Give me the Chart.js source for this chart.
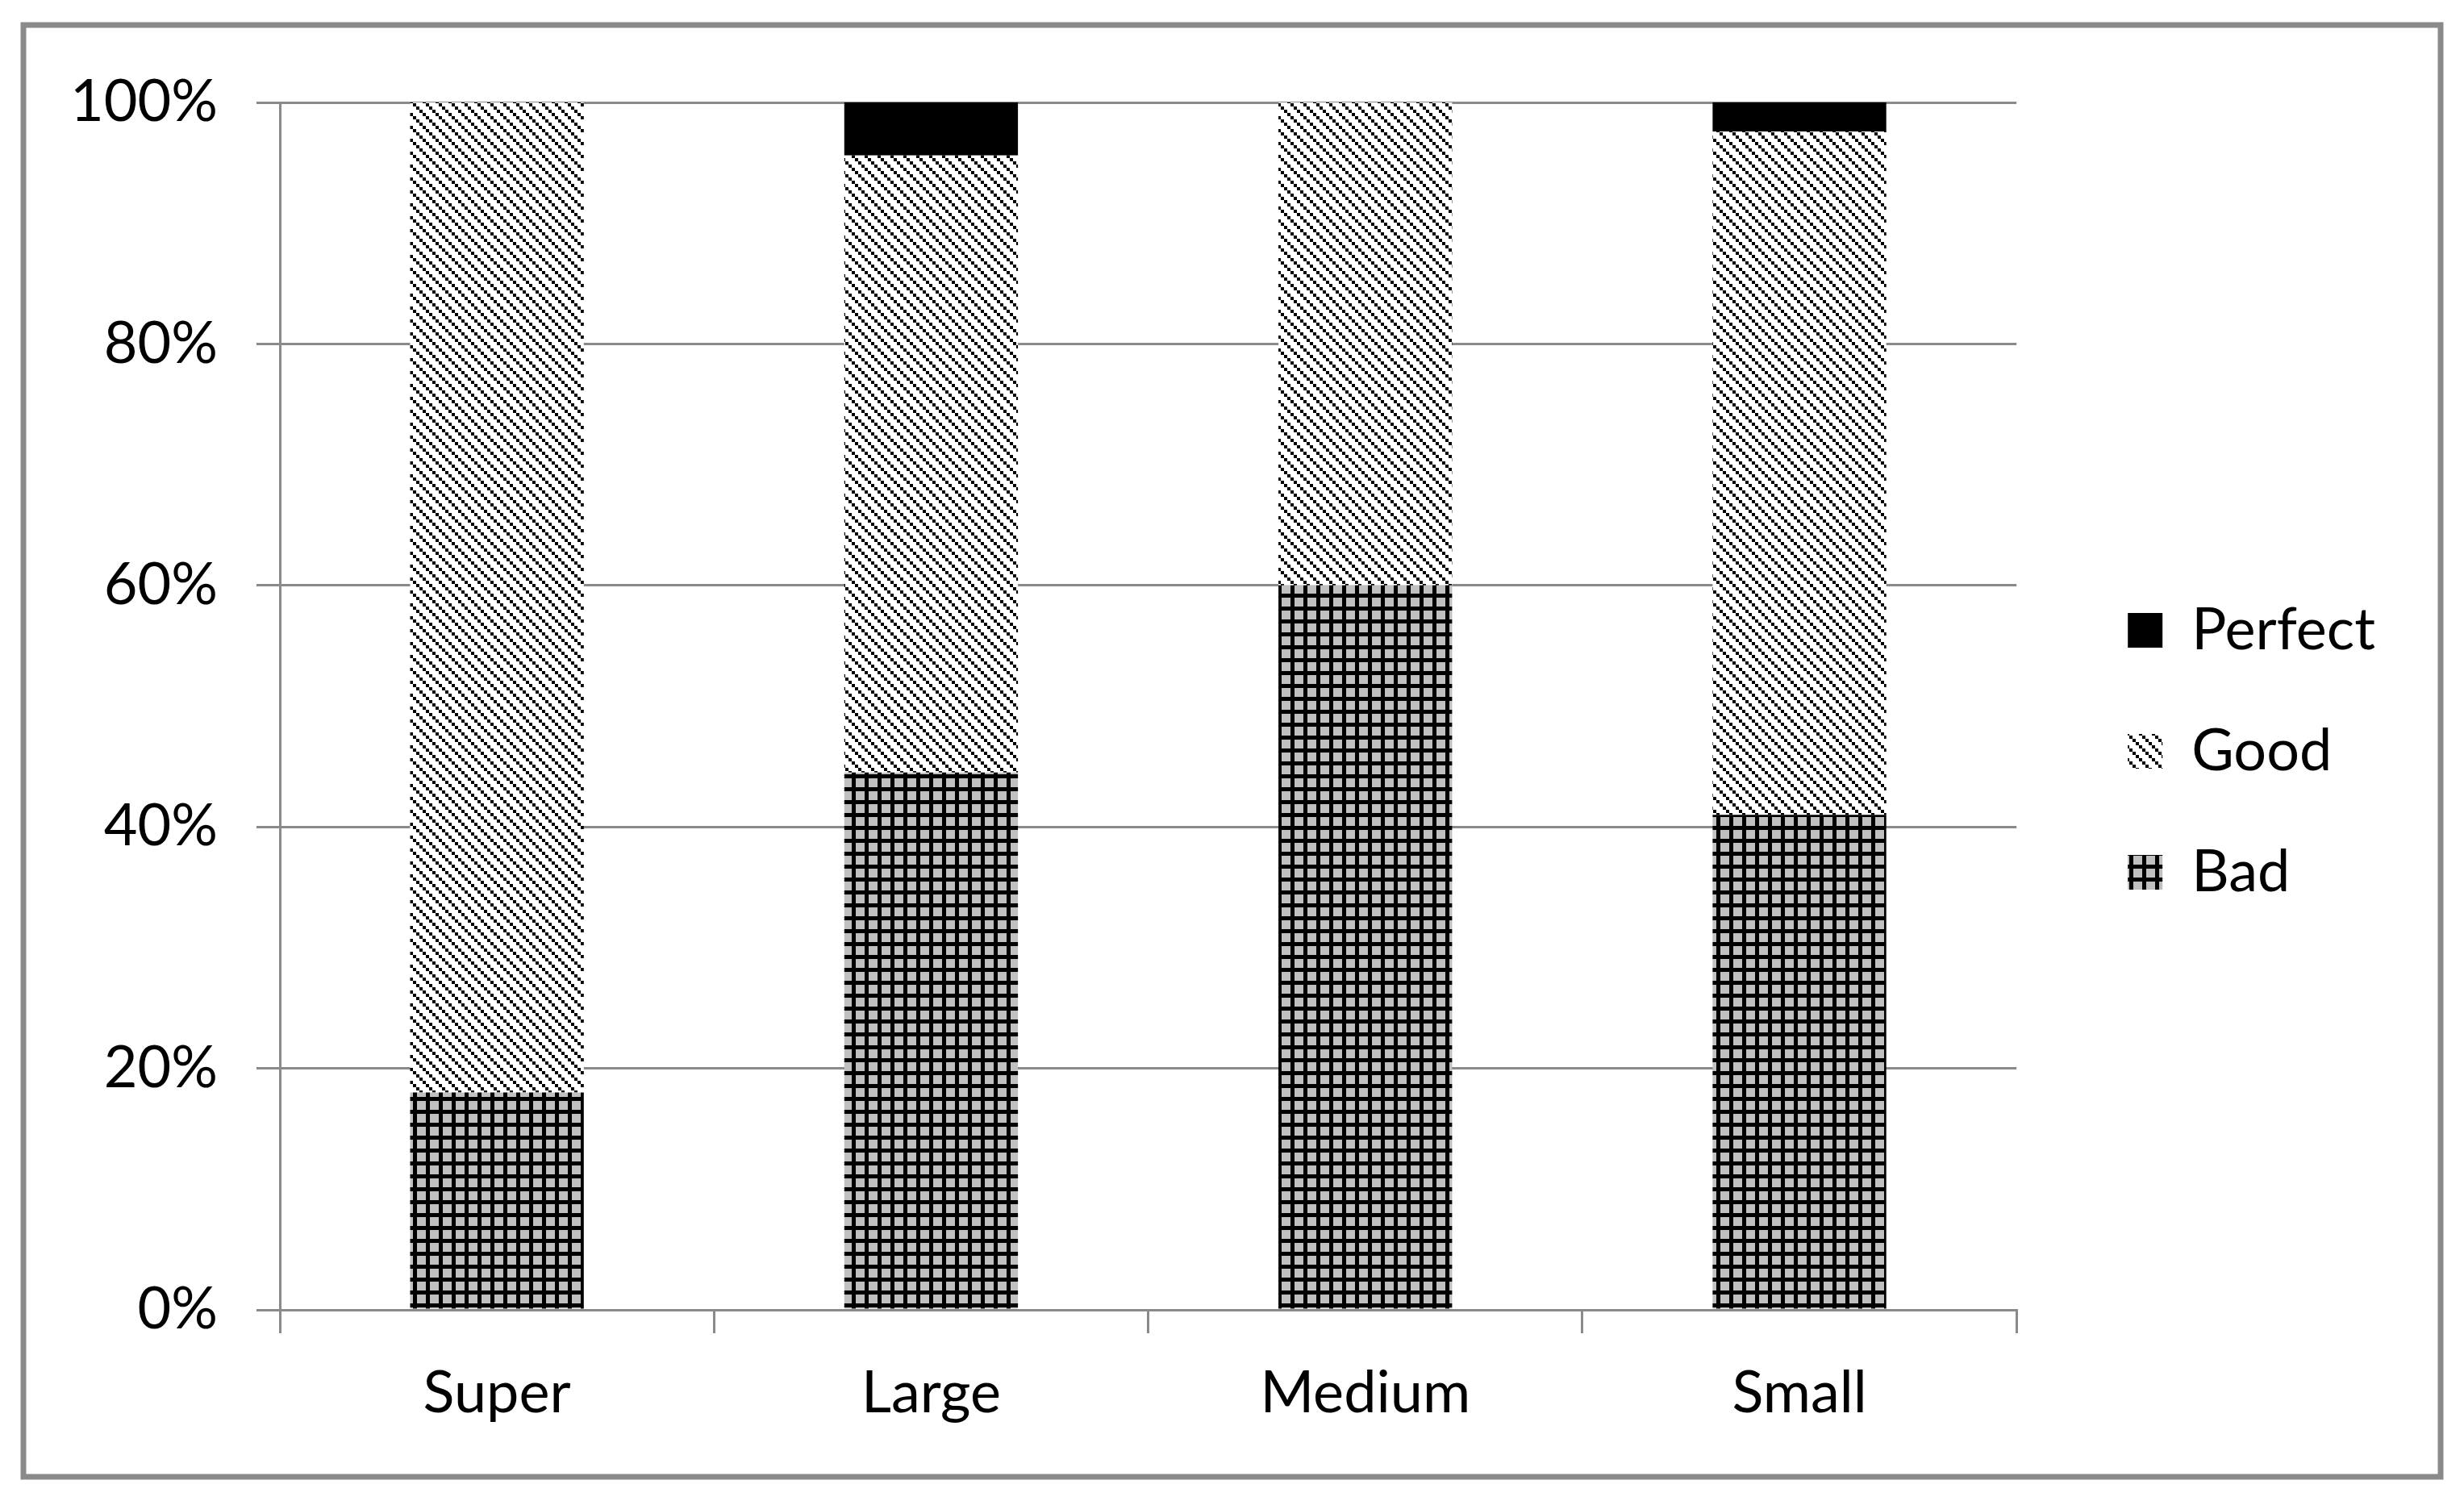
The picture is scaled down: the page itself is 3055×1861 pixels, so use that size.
<!DOCTYPE html>
<html>
<head>
<meta charset="utf-8">
<script src="https://cdn.jsdelivr.net/npm/chart.js@4/dist/chart.umd.min.js"></script>
<style>
    html, body { margin: 0; padding: 0; background: #fff; }
    canvas { display: block; }
</style>
</head>
<body>
<canvas id="grafico" width="3055" height="1861"></canvas>
<script>
// categories and stacked percentages
const categorias = ['Super', 'Large', 'Medium', 'Small'];
const bad = [18, 44.5, 60, 41];
const good = [82, 51.1, 40, 56.6];
const perfect = [0, 4.4, 0, 2.4];
const yTicks = [0, 20, 40, 60, 80, 100];

const cinza = '#8a8a8a';
const fonte = 'Lato, Carlito, Calibri, sans-serif';

// pattern: gray cells with black grid lines
function padraoGrade() {
    const c = document.createElement('canvas');
    c.width = 16; c.height = 16;
    const g = c.getContext('2d');
    g.fillStyle = '#c0c0c0';
    g.fillRect(0, 0, 16, 16);
    g.fillStyle = '#000';
    g.fillRect(0, 0, 5, 16);
    g.fillRect(0, 0, 16, 5);
    return g.createPattern(c, 'repeat');
}

// pattern: white with dotted downward diagonals
function padraoDiagonal() {
    const c = document.createElement('canvas');
    c.width = 16; c.height = 16;
    const g = c.getContext('2d');
    g.fillStyle = '#fff';
    g.fillRect(0, 0, 16, 16);
    g.fillStyle = '#000';
    for (let i = 0; i < 4; i++) {
        g.fillRect(i * 4, i * 4, 4, 4);
    }
    return g.createPattern(c, 'repeat');
}

// outer gray frame around the whole chart
const moldura = {
    id: 'moldura',
    afterDraw(chart) {
        const ctx = chart.ctx;
        ctx.save();
        ctx.strokeStyle = cinza;
        ctx.lineWidth = 7;
        ctx.strokeRect(29, 31, 2997, 1800);
        ctx.restore();
    }
};

const data = {
    labels: categorias,
    datasets: [
        { label: 'Bad', data: bad, backgroundColor: padraoGrade(), borderWidth: 0 },
        { label: 'Good', data: good, backgroundColor: padraoDiagonal(), borderWidth: 0 },
        { label: 'Perfect', data: perfect, backgroundColor: '#000', borderWidth: 0 }
    ]
};

const config = {
    type: 'bar',
    data: data,
    options: {
        responsive: false,
        animation: false,
        devicePixelRatio: 1,
        barPercentage: 0.4,
        categoryPercentage: 1,
        layout: {
            padding: { top: 127, left: 40, bottom: 0, right: 100 }
        },
        plugins: {
            tooltip: { enabled: false },
            legend: {
                position: 'right',
                fullSize: false,
                reverse: true,
                title: { display: true, text: '', font: { size: 10 }, padding: { top: 0, bottom: 100 } },
                labels: {
                    color: '#000',
                    font: { family: fonte, size: 72 },
                    boxWidth: 43,
                    boxHeight: 43,
                    padding: 78
                }
            }
        },
        scales: {
            x: {
                stacked: true,
                grid: {
                    offset: true,
                    drawOnChartArea: false,
                    color: cinza,
                    lineWidth: 3,
                    tickLength: 29
                },
                border: { color: cinza, width: 3 },
                ticks: {
                    color: '#000',
                    font: { family: fonte, size: 72 },
                    padding: 32
                },
                afterFit: function (s) { s.height = 237; }
            },
            y: {
                stacked: true,
                min: 0,
                max: 100,
                afterBuildTicks: function (s) {
                    s.ticks = yTicks.map(v => ({ value: v }));
                },
                grid: { color: cinza, lineWidth: 3, tickLength: 29 },
                border: { color: cinza, width: 3 },
                ticks: {
                    color: '#000',
                    font: { family: fonte, size: 72 },
                    padding: 48,
                    callback: function (v) { return v + '%'; }
                },
                afterFit: function (s) { s.width = 307; }
            },
            // empty box that keeps the gap between plot and legend
            espaco: {
                type: 'linear',
                position: 'right',
                display: true,
                grid: { display: false },
                border: { display: false },
                ticks: { display: false },
                afterFit: function (s) { s.width = 60; }
            }
        }
    },
    plugins: [moldura]
};

const ctx = document.getElementById('grafico').getContext('2d');
const myChart = new Chart(ctx, config);
</script>
</body>
</html>
